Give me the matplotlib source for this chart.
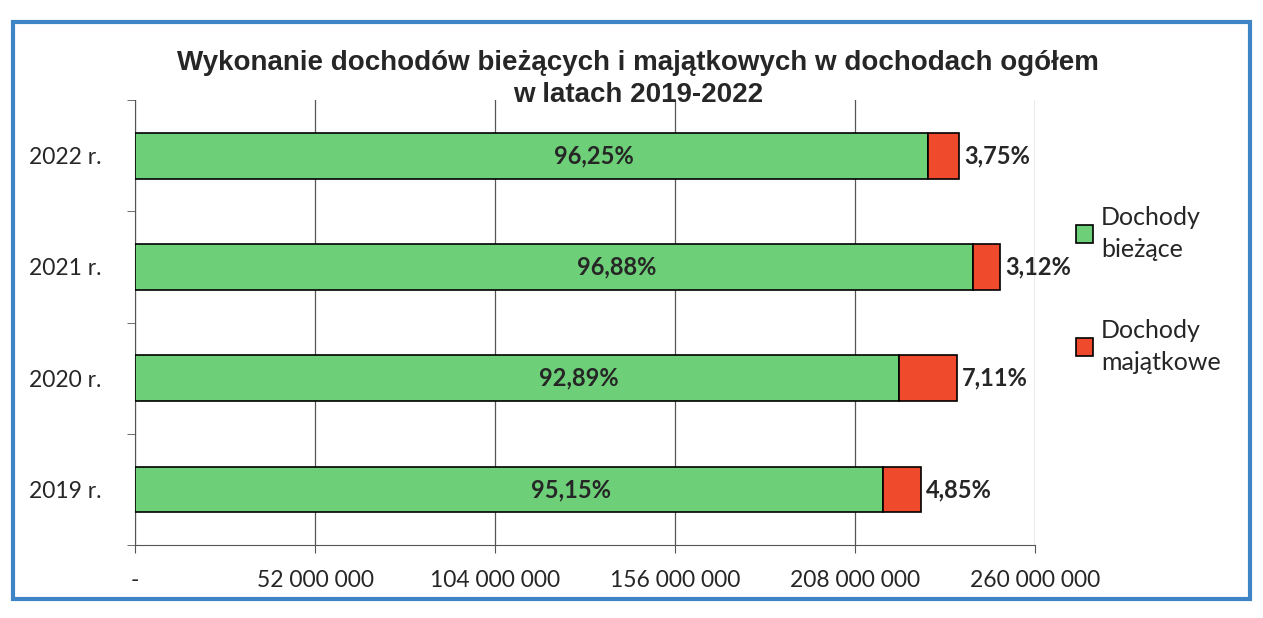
import numpy as np
import matplotlib.pyplot as plt
from matplotlib.patches import Rectangle
from matplotlib.ticker import FuncFormatter

# Dane (od dołu wykresu do góry)
lata = ['2019 r.', '2020 r.', '2021 r.', '2022 r.']
biezace = [216.0e6, 220.6e6, 242.2e6, 229.1e6]
majatkowe = [11.0e6, 16.9e6, 7.8e6, 8.9e6]
proc_biezace = ['95,15%', '92,89%', '96,88%', '96,25%']
proc_majatkowe = ['4,85%', '7,11%', '3,12%', '3,75%']
ticki = [0, 52e6, 104e6, 156e6, 208e6, 260e6]

zielony = '#6DCF77'
czerwony = '#EF4A2C'
txt = '#262626'

plt.rcParams['font.family'] = ['Lato', 'DejaVu Sans']

fig = plt.figure(figsize=(12.63, 6.18), dpi=100)
ax = fig.add_axes([0.107, 0.118, 0.7125, 0.72])

y = np.arange(len(lata))
h = 0.41
ax.barh(y, biezace, height=h, color=zielony, edgecolor='black', linewidth=1.2,
        label='Dochody\nbieżące', zorder=3)
ax.barh(y, majatkowe, left=biezace, height=h, color=czerwony, edgecolor='black',
        linewidth=1.2, label='Dochody\nmajątkowe', zorder=3)

for i in range(len(lata)):
    ax.text(biezace[i] / 2 + 18e6, y[i], proc_biezace[i], ha='center', va='center',
            fontsize=17, fontweight='bold', color=txt, zorder=4)
    ax.text(biezace[i] + majatkowe[i] + 1.5e6, y[i], proc_majatkowe[i], ha='left',
            va='center', fontsize=17, fontweight='bold', color=txt, zorder=4)

ax.set_xlim(0, 260e6)
ax.set_ylim(-0.5, 3.5)
ax.set_xticks(ticki)
ax.xaxis.set_major_formatter(FuncFormatter(
    lambda v, p: '-' if v == 0 else f'{int(v):,}'.replace(',', ' ')))
ax.set_yticks(y)
ax.set_yticklabels(lata)
ax.set_yticks(np.arange(-0.5, 4, 1), minor=True)
ax.tick_params(axis='y', which='major', length=0, pad=24, labelsize=16.5, labelcolor=txt)
ax.tick_params(axis='y', which='minor', length=6, color='#555555')
ax.tick_params(axis='x', length=6, color='#555555', pad=12, labelsize=16.5, labelcolor=txt)

ax.grid(axis='x', color='#555555', linewidth=0.9, zorder=0)
for s in ['top', 'right']:
    ax.spines[s].set_visible(False)
for s in ['left', 'bottom']:
    ax.spines[s].set_color('#555555')

fig.text(0.505, 0.872, 'Wykonanie dochodów bieżących i majątkowych w dochodach ogółem\nw latach 2019-2022',
         ha='center', va='center', fontsize=20, fontweight='bold', color=txt,
         family=['Liberation Sans', 'DejaVu Sans'], linespacing=1.3)

leg = fig.legend(loc='center left', bbox_to_anchor=(0.834, 0.531), frameon=False,
                 fontsize=18, handlelength=0.7, handleheight=0.7, labelspacing=2.3,
                 handletextpad=0.3)
for t in leg.get_texts():
    t.set_color(txt)
    t.set_linespacing(1.5)

# niebieska ramka wykresu
fig.patches.append(Rectangle((0.01, 0.03), 0.98, 0.935, transform=fig.transFigure,
                             fill=False, edgecolor='#3D85C6', linewidth=3))

plt.savefig('out.png', dpi=100)
